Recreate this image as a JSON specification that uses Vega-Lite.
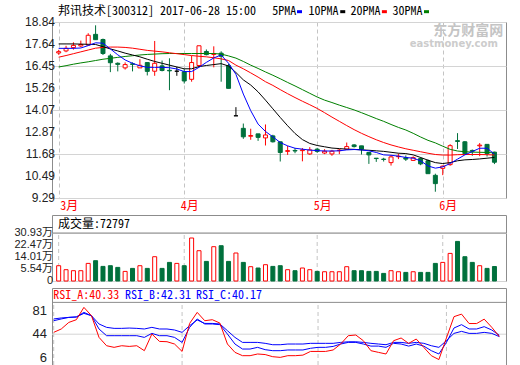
{
"$schema": "https://vega.github.io/schema/vega-lite/v6.json",
"background": "#ffffff",
"padding": {"left": 13, "top": 4, "right": 0, "bottom": 0},
"autosize": {"type": "pad"},
"config": {
  "view": {"stroke": "#8c8c8c", "strokeWidth": 1},
  "axis": {"domain": false, "ticks": false, "labelFont": "Liberation Sans", "labelFontSize": 12, "labelColor": "#222222", "labelFlush": false, "labelOverlap": false, "gridColor": "#d4d4d4", "gridWidth": 1},
  "text": {"font": "Noto Sans Mono CJK SC", "fontSize": 12}
},
"datasets": {
  "months": [{"m": 0}, {"m": 17}, {"m": 35}, {"m": 52}],
  "pticks": [{"t": 9.29, "s": "9.29"}, {"t": 10.49, "s": "10.49"}, {"t": 11.68, "s": "11.68"}, {"t": 12.87, "s": "12.87"}, {"t": 14.07, "s": "14.07"}, {"t": 15.26, "s": "15.26"}, {"t": 16.45, "s": "16.45"}, {"t": 17.64, "s": "17.64"}, {"t": 18.84, "s": "18.84"}],
  "vticks": [{"t": -2.93, "s": "0"}, {"t": 5.54, "s": "5.54万"}, {"t": 14.01, "s": "14.01万"}, {"t": 22.47, "s": "22.47万"}, {"t": 30.93, "s": "30.93万"}],
  "rticks": [{"t": 6, "s": "6"}, {"t": 44, "s": "44"}, {"t": 81, "s": "81"}],
  "d": [
{"i":0,"o":17.16,"h":17.33,"l":17.06,"c":17.23,"v":7.86,"m5":17.41,"m10":17.65,"m20":16.93,"m30":16.40,"ra":46.9,"rb":65.5,"rc":68.3},
{"i":1,"o":17.27,"h":17.55,"l":17.20,"c":17.41,"v":5.04,"m5":17.41,"m10":17.65,"m20":17.02,"m30":16.47,"ra":52.3,"rb":68.3,"rc":69.9},
{"i":2,"o":17.45,"h":17.74,"l":17.34,"c":17.57,"v":4.34,"m5":17.41,"m10":17.65,"m20":17.12,"m30":16.55,"ra":62.8,"rb":70.8,"rc":70.8},
{"i":3,"o":17.54,"h":17.83,"l":17.47,"c":17.62,"v":4.34,"m5":17.43,"m10":17.64,"m20":17.22,"m30":16.62,"ra":67.1,"rb":71.5,"rc":71.5},
{"i":4,"o":17.59,"h":18.23,"l":17.56,"c":18.12,"v":9.49,"m5":17.56,"m10":17.63,"m20":17.32,"m30":16.68,"ra":86.8,"rb":78.8,"rc":77.2},
{"i":5,"o":18.17,"h":18.66,"l":17.88,"c":17.88,"v":11.39,"m5":17.71,"m10":17.62,"m20":17.42,"m30":16.75,"ra":73.5,"rb":73.5,"rc":73.5},
{"i":6,"o":17.89,"h":17.94,"l":17.05,"c":17.13,"v":7.37,"m5":17.69,"m10":17.50,"m20":17.46,"m30":16.82,"ra":38.9,"rb":52.3,"rc":60.3},
{"i":7,"o":17.00,"h":17.11,"l":16.12,"c":16.63,"v":7.86,"m5":17.38,"m10":17.38,"m20":17.48,"m30":16.87,"ra":25.6,"rb":41.6,"rc":54.9},
{"i":8,"o":16.60,"h":16.65,"l":16.16,"c":16.54,"v":6.66,"m5":17.06,"m10":17.27,"m20":17.48,"m30":16.92,"ra":23.0,"rb":41.6,"rc":53.3},
{"i":9,"o":16.35,"h":16.65,"l":16.26,"c":16.53,"v":3.84,"m5":16.78,"m10":17.15,"m20":17.46,"m30":16.97,"ra":25.6,"rb":41.6,"rc":53.3},
{"i":10,"o":16.57,"h":16.65,"l":16.16,"c":16.54,"v":5.96,"m5":16.60,"m10":17.05,"m20":17.42,"m30":17.01,"ra":24.5,"rb":41.6,"rc":53.8},
{"i":11,"o":16.35,"h":16.82,"l":16.35,"c":16.49,"v":7.86,"m5":16.46,"m10":16.95,"m20":17.36,"m30":17.05,"ra":25.6,"rb":41.6,"rc":53.3},
{"i":12,"o":16.64,"h":16.64,"l":15.94,"c":16.16,"v":5.96,"m5":16.38,"m10":16.82,"m20":17.30,"m30":17.08,"ra":17.7,"rb":38.9,"rc":52.3},
{"i":13,"o":16.17,"h":17.81,"l":15.92,"c":16.60,"v":14.21,"m5":16.38,"m10":16.70,"m20":17.26,"m30":17.10,"ra":44.3,"rb":45.3,"rc":54.9},
{"i":14,"o":16.46,"h":16.75,"l":16.16,"c":16.21,"v":5.96,"m5":16.38,"m10":16.60,"m20":17.22,"m30":17.12,"ra":32.5,"rb":41.6,"rc":52.3},
{"i":15,"o":16.22,"h":16.87,"l":15.14,"c":16.19,"v":10.19,"m5":16.36,"m10":16.50,"m20":17.17,"m30":17.13,"ra":32.0,"rb":41.6,"rc":52.3},
{"i":16,"o":16.17,"h":16.40,"l":15.92,"c":16.17,"v":9.49,"m5":16.29,"m10":16.40,"m20":17.12,"m30":17.13,"ra":28.3,"rb":38.9,"rc":50.7},
{"i":17,"o":16.14,"h":16.30,"l":15.50,"c":15.64,"v":7.86,"m5":16.15,"m10":16.30,"m20":17.07,"m30":17.13,"ra":16.5,"rb":30.9,"rc":46.9},
{"i":18,"o":15.73,"h":17.00,"l":15.60,"c":16.64,"v":27.4,"m5":16.15,"m10":16.30,"m20":17.02,"m30":17.13,"ra":61.2,"rb":54.9,"rc":57.6},
{"i":19,"o":16.48,"h":17.55,"l":16.42,"c":17.55,"v":18.44,"m5":16.38,"m10":16.42,"m20":16.98,"m30":17.13,"ra":78.8,"rb":68.3,"rc":66.7},
{"i":20,"o":17.24,"h":17.35,"l":17.03,"c":17.07,"v":10.9,"m5":16.65,"m10":16.48,"m20":16.95,"m30":17.13,"ra":65.5,"rb":60.3,"rc":61.2},
{"i":21,"o":17.08,"h":17.52,"l":16.38,"c":17.12,"v":21.27,"m5":16.89,"m10":16.53,"m20":16.90,"m30":17.13,"ra":67.1,"rb":60.3,"rc":61.2},
{"i":22,"o":17.15,"h":17.25,"l":15.60,"c":16.98,"v":21.97,"m5":17.05,"m10":16.58,"m20":16.84,"m30":17.10,"ra":61.8,"rb":59.2,"rc":60.3},
{"i":23,"o":16.47,"h":16.57,"l":15.24,"c":15.24,"v":10.9,"m5":16.60,"m10":16.45,"m20":16.75,"m30":17.00,"ra":28.3,"rb":44.3,"rc":49.6},
{"i":24,"o":13.75,"h":14.22,"l":13.75,"c":13.75,"v":16.82,"m5":16.00,"m10":16.10,"m20":16.50,"m30":16.88,"ra":15.0,"rb":28.3,"rc":38.9},
{"i":25,"o":13.07,"h":13.33,"l":12.50,"c":12.61,"v":10.19,"m5":14.93,"m10":15.70,"m20":16.30,"m30":16.70,"ra":9.7,"rb":20.3,"rc":30.9},
{"i":26,"o":12.64,"h":13.05,"l":12.45,"c":12.68,"v":7.16,"m5":14.03,"m10":15.42,"m20":16.08,"m30":16.50,"ra":9.7,"rb":20.3,"rc":30.9},
{"i":27,"o":12.77,"h":12.77,"l":12.39,"c":12.58,"v":6.24,"m5":13.30,"m10":15.05,"m20":15.85,"m30":16.32,"ra":12.4,"rb":23.0,"rc":30.9},
{"i":28,"o":12.55,"h":13.28,"l":12.14,"c":12.71,"v":8.57,"m5":12.90,"m10":14.60,"m20":15.60,"m30":16.13,"ra":11.5,"rb":19.3,"rc":29.4},
{"i":29,"o":12.66,"h":12.72,"l":12.30,"c":12.34,"v":7.37,"m5":12.61,"m10":14.13,"m20":15.40,"m30":15.95,"ra":8.1,"rb":17.7,"rc":27.2},
{"i":30,"o":12.34,"h":12.34,"l":11.27,"c":11.76,"v":7.86,"m5":12.30,"m10":13.66,"m20":15.17,"m30":15.76,"ra":7.0,"rb":17.7,"rc":27.2},
{"i":31,"o":11.82,"h":12.12,"l":11.63,"c":11.86,"v":5.04,"m5":12.12,"m10":13.21,"m20":14.95,"m30":15.56,"ra":9.7,"rb":18.8,"rc":28.3},
{"i":32,"o":11.87,"h":12.00,"l":11.72,"c":11.84,"v":4.34,"m5":11.99,"m10":12.79,"m20":14.74,"m30":15.37,"ra":9.7,"rb":18.8,"rc":28.3},
{"i":33,"o":11.86,"h":12.00,"l":11.28,"c":11.90,"v":6.24,"m5":11.94,"m10":12.46,"m20":14.54,"m30":15.17,"ra":10.6,"rb":18.8,"rc":28.3},
{"i":34,"o":11.68,"h":12.05,"l":11.63,"c":11.90,"v":5.04,"m5":11.89,"m10":12.25,"m20":14.35,"m30":14.97,"ra":16.5,"rb":21.5,"rc":29.4},
{"i":35,"o":11.94,"h":12.01,"l":11.74,"c":11.82,"v":3.84,"m5":11.86,"m10":12.14,"m20":14.15,"m30":14.77,"ra":16.5,"rb":23.0,"rc":29.4},
{"i":36,"o":11.73,"h":11.94,"l":11.67,"c":11.83,"v":3.6,"m5":11.84,"m10":12.07,"m20":13.92,"m30":14.60,"ra":16.5,"rb":23.0,"rc":29.4},
{"i":37,"o":11.68,"h":11.90,"l":11.58,"c":11.83,"v":3.6,"m5":11.84,"m10":12.00,"m20":13.68,"m30":14.47,"ra":18.8,"rb":24.5,"rc":29.4},
{"i":38,"o":11.86,"h":11.94,"l":11.67,"c":11.89,"v":3.6,"m5":11.85,"m10":11.97,"m20":13.45,"m30":14.33,"ra":28.3,"rb":28.3,"rc":30.9},
{"i":39,"o":11.94,"h":12.30,"l":11.90,"c":12.08,"v":7.16,"m5":11.90,"m10":11.94,"m20":13.22,"m30":14.20,"ra":41.6,"rb":30.9,"rc":31.9},
{"i":40,"o":12.17,"h":12.21,"l":12.03,"c":12.08,"v":4.34,"m5":11.92,"m10":11.93,"m20":13.00,"m30":14.07,"ra":42.7,"rb":30.9,"rc":31.9},
{"i":41,"o":12.12,"h":12.12,"l":11.65,"c":11.94,"v":4.34,"m5":11.90,"m10":11.90,"m20":12.80,"m30":13.92,"ra":33.6,"rb":28.3,"rc":30.9},
{"i":42,"o":11.76,"h":11.76,"l":11.14,"c":11.63,"v":3.84,"m5":11.85,"m10":11.88,"m20":12.62,"m30":13.76,"ra":17.7,"rb":25.0,"rc":29.4},
{"i":43,"o":11.45,"h":11.45,"l":11.25,"c":11.43,"v":3.84,"m5":11.76,"m10":11.85,"m20":12.45,"m30":13.60,"ra":15.0,"rb":25.0,"rc":28.3},
{"i":44,"o":11.40,"h":11.47,"l":11.27,"c":11.38,"v":2.43,"m5":11.63,"m10":11.82,"m20":12.30,"m30":13.45,"ra":12.4,"rb":23.0,"rc":27.2},
{"i":45,"o":11.21,"h":11.62,"l":11.05,"c":11.52,"v":4.34,"m5":11.61,"m10":11.77,"m20":12.17,"m30":13.28,"ra":33.6,"rb":29.4,"rc":30.9},
{"i":46,"o":11.53,"h":11.70,"l":11.40,"c":11.56,"v":3.6,"m5":11.56,"m10":11.72,"m20":12.06,"m30":13.12,"ra":37.9,"rb":28.3,"rc":30.9},
{"i":47,"o":11.47,"h":11.60,"l":11.30,"c":11.40,"v":3.14,"m5":11.49,"m10":11.70,"m20":11.96,"m30":12.98,"ra":29.3,"rb":25.0,"rc":29.4},
{"i":48,"o":11.33,"h":11.55,"l":11.30,"c":11.48,"v":3.6,"m5":11.45,"m10":11.63,"m20":11.88,"m30":12.80,"ra":36.3,"rb":28.3,"rc":30.9},
{"i":49,"o":11.43,"h":11.50,"l":11.07,"c":11.14,"v":3.14,"m5":11.31,"m10":11.49,"m20":11.80,"m30":12.60,"ra":23.0,"rb":25.0,"rc":29.4},
{"i":50,"o":11.31,"h":11.38,"l":10.61,"c":10.61,"v":3.14,"m5":11.03,"m10":11.34,"m20":11.72,"m30":12.42,"ra":9.7,"rb":17.7,"rc":25.6},
{"i":51,"o":10.52,"h":10.61,"l":9.63,"c":10.07,"v":9.49,"m5":10.91,"m10":11.21,"m20":11.65,"m30":12.28,"ra":3.5,"rb":12.4,"rc":23.0},
{"i":52,"o":10.90,"h":11.05,"l":10.53,"c":11.02,"v":10.19,"m5":10.98,"m10":11.16,"m20":11.62,"m30":12.10,"ra":38.0,"rb":30.9,"rc":33.6},
{"i":53,"o":11.10,"h":12.21,"l":11.04,"c":12.13,"v":16.54,"m5":11.16,"m10":11.21,"m20":11.62,"m30":11.93,"ra":72.0,"rb":53.9,"rc":45.3},
{"i":54,"o":12.40,"h":12.81,"l":11.95,"c":12.36,"v":25.0,"m5":11.40,"m10":11.31,"m20":11.64,"m30":11.84,"ra":76.0,"rb":59.2,"rc":48.5},
{"i":55,"o":12.34,"h":12.38,"l":11.64,"c":11.70,"v":14.21,"m5":11.63,"m10":11.36,"m20":11.65,"m30":11.80,"ra":61.0,"rb":52.3,"rc":45.3},
{"i":56,"o":11.87,"h":11.92,"l":11.58,"c":11.83,"v":10.19,"m5":11.81,"m10":11.38,"m20":11.65,"m30":11.78,"ra":61.0,"rb":52.3,"rc":45.3},
{"i":57,"o":12.12,"h":12.27,"l":11.56,"c":12.16,"v":7.86,"m5":11.99,"m10":11.41,"m20":11.65,"m30":11.77,"ra":68.0,"rb":56.0,"rc":46.9},
{"i":58,"o":12.20,"h":12.22,"l":11.54,"c":11.70,"v":5.96,"m5":11.99,"m10":11.45,"m20":11.64,"m30":11.76,"ra":55.0,"rb":50.7,"rc":45.3},
{"i":59,"o":11.78,"h":11.80,"l":11.13,"c":11.23,"v":7.28,"m5":11.67,"m10":11.49,"m20":11.62,"m30":11.74,"ra":40.33,"rb":42.31,"rc":40.17}
  ]
},
"spacing": 17,
"bounds": "flush",
"vconcat": [
 {
  "width": 454, "height": 176,
  "data": {"name": "d"},
  "layer": [
   {"mark": {"type": "rule", "strokeWidth": 1},
    "encoding": {
     "x": {"field": "i", "type": "quantitative", "scale": {"domain": [-0.225, 59.887], "nice": false, "zero": false},
       "axis": {"title": null, "values": [0, 17, 35, 52], "labelOverlap": false, "labelExpr": "datum.value == 0 ? '3月' : datum.value == 17 ? '4月' : datum.value == 35 ? '5月' : '6月'", "labelColor": "#ff0000", "labelFont": "Noto Sans Mono CJK SC", "labelFontSize": 12, "labelAlign": "left", "labelBaseline": "top", "labelPadding": 2, "labelOffset": {"condition": {"test": "datum.value == 0", "value": 1}, "value": -4}, "grid": true, "gridDash": [4, 3], "gridColor": "#c4c4c4"}},
     "y": {"field": "l", "type": "quantitative", "scale": {"domain": [9.29, 18.84], "nice": false, "zero": false},
       "axis": {"title": null, "values": [9.29, 10.49, 11.68, 12.87, 14.07, 15.26, 16.45, 17.64, 18.84], "labels": false, "grid": true}},
     "y2": {"field": "h"},
     "color": {"condition": [{"test": "datum.c > datum.o", "value": "#ff0000"}, {"test": "datum.c < datum.o", "value": "#00703c"}], "value": "#000000"}
    }},
   {"data": {"name": "pticks"}, "mark": {"type": "text", "align": "right", "baseline": "middle", "dx": -2, "font": "Liberation Sans", "fontSize": 12, "color": "#222222"},
    "encoding": {"x": {"datum": -0.225, "type": "quantitative"}, "y": {"field": "t", "type": "quantitative"}, "text": {"field": "s"}}},
   {"mark": {"type": "bar", "size": 4, "strokeWidth": 1, "orient": "vertical"},
    "encoding": {
     "x": {"field": "i", "type": "quantitative"},
     "y": {"field": "o", "type": "quantitative"},
     "y2": {"field": "c"},
     "fill": {"condition": [{"test": "datum.c > datum.o", "value": "#ffffff"}, {"test": "datum.c < datum.o", "value": "#00703c"}], "value": "#000000"},
     "stroke": {"condition": [{"test": "datum.c > datum.o", "value": "#ff0000"}, {"test": "datum.c < datum.o", "value": "#00703c"}], "value": "#000000"}
    }},
   {"mark": {"type": "line", "color": "#008000", "strokeWidth": 1}, "encoding": {"x": {"field": "i", "type": "quantitative"}, "y": {"field": "m30", "type": "quantitative"}}},
   {"mark": {"type": "line", "color": "#ff0000", "strokeWidth": 1}, "encoding": {"x": {"field": "i", "type": "quantitative"}, "y": {"field": "m20", "type": "quantitative"}}},
   {"mark": {"type": "line", "color": "#000000", "strokeWidth": 1}, "encoding": {"x": {"field": "i", "type": "quantitative"}, "y": {"field": "m10", "type": "quantitative"}}},
   {"mark": {"type": "line", "color": "#0000ff", "strokeWidth": 1}, "encoding": {"x": {"field": "i", "type": "quantitative"}, "y": {"field": "m5", "type": "quantitative"}}},
   {"data": {"values": [{}]}, "mark": {"type": "text", "align": "left", "baseline": "middle", "color": "#000000"},
    "encoding": {"x": {"datum": -0.093, "type": "quantitative"}, "y": {"datum": 19.44, "type": "quantitative"}, "text": {"value": "邦讯技术[300312] 2017-06-28 15:00"}}},
   {"data": {"values": [{}]}, "mark": {"type": "text", "align": "left", "baseline": "middle", "color": "#000000"},
    "encoding": {"x": {"datum": 28.905, "type": "quantitative"}, "y": {"datum": 19.44, "type": "quantitative"}, "text": {"value": "5PMA"}}},
   {"data": {"values": [{}]}, "mark": {"type": "text", "align": "left", "baseline": "middle", "color": "#000000"},
    "encoding": {"x": {"datum": 33.84, "type": "quantitative"}, "y": {"datum": 19.44, "type": "quantitative"}, "text": {"value": "10PMA"}}},
   {"data": {"values": [{}]}, "mark": {"type": "text", "align": "left", "baseline": "middle", "color": "#000000"},
    "encoding": {"x": {"datum": 39.5, "type": "quantitative"}, "y": {"datum": 19.44, "type": "quantitative"}, "text": {"value": "20PMA"}}},
   {"data": {"values": [{}]}, "mark": {"type": "text", "align": "left", "baseline": "middle", "color": "#000000"},
    "encoding": {"x": {"datum": 45.19, "type": "quantitative"}, "y": {"datum": 19.44, "type": "quantitative"}, "text": {"value": "30PMA"}}},
   {"data": {"values": [{}]}, "mark": {"type": "point", "shape": "M-1.25,-0.75H1.25V0.75H-1.25Z", "size": 16, "filled": true, "opacity": 1, "color": "#0000ff"},
    "encoding": {"x": {"datum": 32.61, "type": "quantitative"}, "y": {"datum": 19.40, "type": "quantitative"}}},
   {"data": {"values": [{}]}, "mark": {"type": "point", "shape": "M-1.25,-0.75H1.25V0.75H-1.25Z", "size": 16, "filled": true, "opacity": 1, "color": "#000000"},
    "encoding": {"x": {"datum": 38.46, "type": "quantitative"}, "y": {"datum": 19.40, "type": "quantitative"}}},
   {"data": {"values": [{}]}, "mark": {"type": "point", "shape": "M-1.25,-0.75H1.25V0.75H-1.25Z", "size": 16, "filled": true, "opacity": 1, "color": "#ff0000"},
    "encoding": {"x": {"datum": 44.1, "type": "quantitative"}, "y": {"datum": 19.40, "type": "quantitative"}}},
   {"data": {"values": [{}]}, "mark": {"type": "point", "shape": "M-1.25,-0.75H1.25V0.75H-1.25Z", "size": 16, "filled": true, "opacity": 1, "color": "#008000"},
    "encoding": {"x": {"datum": 49.8, "type": "quantitative"}, "y": {"datum": 19.40, "type": "quantitative"}}},
   {"data": {"values": [{}]}, "mark": {"type": "text", "align": "left", "baseline": "middle", "color": "#c4c4c4", "font": "Noto Sans CJK SC", "fontSize": 14, "fontWeight": "bold"},
    "encoding": {"x": {"datum": 50.71, "type": "quantitative"}, "y": {"datum": 18.352, "type": "quantitative"}, "text": {"value": "东方财富网"}}},
   {"data": {"values": [{}]}, "mark": {"type": "text", "align": "left", "baseline": "middle", "color": "#cccccc", "font": "DejaVu Sans", "fontSize": 10, "fontWeight": "bold"},
    "encoding": {"x": {"datum": 47.53, "type": "quantitative"}, "y": {"datum": 17.673, "type": "quantitative"}, "text": {"value": "eastmoney.com"}}}
  ]
 },
 {
  "spacing": 7,
  "bounds": "flush",
  "vconcat": [
   {
    "width": 454, "height": 66,
    "data": {"name": "d"},
    "layer": [
     {"data": {"name": "months"}, "mark": {"type": "rule", "strokeDash": [4, 3], "color": "#c4c4c4"},
      "encoding": {
       "x": {"field": "m", "type": "quantitative", "scale": {"domain": [-0.225, 59.887], "nice": false, "zero": false}, "axis": null},
       "y": {"datum": -2.93, "type": "quantitative", "scale": {"domain": [-2.93, 43.63], "nice": false, "zero": false},
         "axis": {"title": null, "values": [-2.93, 5.54, 14.01, 22.47, 30.93], "labels": false, "grid": true}},
       "y2": {"datum": 30.93}
      }},
     {"data": {"name": "vticks"}, "mark": {"type": "text", "align": "right", "baseline": "middle", "dx": -4, "font": "Liberation Sans, Noto Sans CJK SC", "fontSize": 11, "color": "#222222"},
      "encoding": {"x": {"datum": -0.225, "type": "quantitative", "axis": null}, "y": {"field": "t", "type": "quantitative"}, "text": {"field": "s"}}},
     {"mark": {"type": "bar", "size": 4, "strokeWidth": 1, "orient": "vertical"},
      "encoding": {
       "x": {"field": "i", "type": "quantitative", "axis": null},
       "y": {"field": "v", "type": "quantitative"},
       "y2": {"datum": -2.93},
       "fill": {"condition": {"test": "datum.c >= datum.o", "value": "#ffffff"}, "value": "#00703c"},
       "stroke": {"condition": {"test": "datum.c >= datum.o", "value": "#ff0000"}, "value": "#00703c"}
      }},
     {"data": {"values": [{}]}, "mark": {"type": "rule", "color": "#8c8c8c"}, "encoding": {"y": {"datum": 30.93, "type": "quantitative"}}},
     {"data": {"values": [{}]}, "mark": {"type": "text", "align": "left", "baseline": "middle", "color": "#000000"},
      "encoding": {"x": {"datum": -0.093, "type": "quantitative", "axis": null}, "y": {"datum": 37.28, "type": "quantitative"}, "text": {"value": "成交量:72797"}}}
    ]
   },
   {
    "width": 454, "height": 77,
    "data": {"name": "d"},
    "layer": [
     {"data": {"name": "months"}, "mark": {"type": "rule", "strokeDash": [4, 3], "color": "#c4c4c4"},
      "encoding": {
       "x": {"field": "m", "type": "quantitative", "scale": {"domain": [-0.225, 59.887], "nice": false, "zero": false}, "axis": null},
       "y": {"datum": -5.16, "type": "quantitative", "scale": {"domain": [-5.16, 117.7], "nice": false, "zero": false},
         "axis": {"title": null, "values": [6, 44, 81], "labels": false, "grid": false}},
       "y2": {"datum": 94.75}
      }},
     {"data": {"name": "rticks"}, "mark": {"type": "text", "align": "right", "baseline": "middle", "dx": -5, "font": "Liberation Sans", "fontSize": 13, "color": "#222222"},
      "encoding": {"x": {"datum": -0.225, "type": "quantitative", "axis": null}, "y": {"field": "t", "type": "quantitative"}, "text": {"field": "s"}}},
     {"data": {"values": [{}]}, "mark": {"type": "rule", "color": "#d4d4d4"}, "encoding": {"y": {"datum": 44, "type": "quantitative"}}},
     {"mark": {"type": "line", "color": "#0000ff", "strokeWidth": 1}, "encoding": {"x": {"field": "i", "type": "quantitative", "axis": null}, "y": {"field": "rc", "type": "quantitative"}}},
     {"mark": {"type": "line", "color": "#0000ff", "strokeWidth": 1}, "encoding": {"x": {"field": "i", "type": "quantitative", "axis": null}, "y": {"field": "rb", "type": "quantitative"}}},
     {"mark": {"type": "line", "color": "#ff0000", "strokeWidth": 1}, "encoding": {"x": {"field": "i", "type": "quantitative", "axis": null}, "y": {"field": "ra", "type": "quantitative"}}},
     {"data": {"values": [{}]}, "mark": {"type": "rule", "color": "#8c8c8c"}, "encoding": {"y": {"datum": 94.75, "type": "quantitative"}}},
     {"data": {"values": [{}]}, "mark": {"type": "text", "align": "left", "baseline": "middle", "color": "#ff0000"},
      "encoding": {"x": {"datum": -0.053, "type": "quantitative", "axis": null}, "y": {"datum": 107, "type": "quantitative"}, "text": {"value": "RSI_A:40.33"}}},
     {"data": {"values": [{}]}, "mark": {"type": "text", "align": "left", "baseline": "middle", "color": "#0000ff"},
      "encoding": {"x": {"datum": 9.44, "type": "quantitative", "axis": null}, "y": {"datum": 107, "type": "quantitative"}, "text": {"value": "RSI_B:42.31"}}},
     {"data": {"values": [{}]}, "mark": {"type": "text", "align": "left", "baseline": "middle", "color": "#0000ff"},
      "encoding": {"x": {"datum": 18.84, "type": "quantitative", "axis": null}, "y": {"datum": 107, "type": "quantitative"}, "text": {"value": "RSI_C:40.17"}}}
    ]
   }
  ]
 }
]
}
